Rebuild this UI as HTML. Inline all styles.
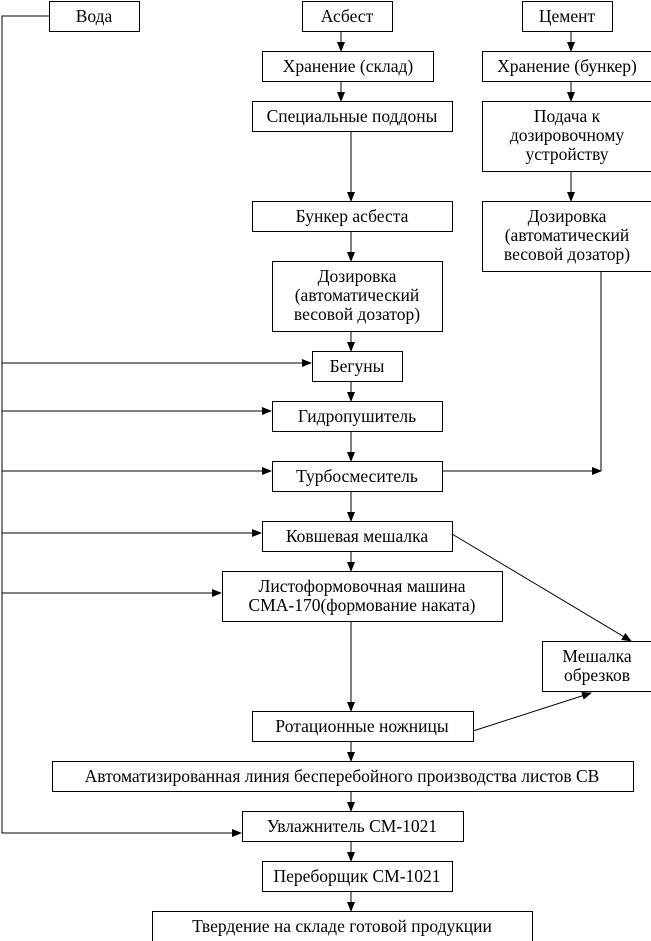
<!DOCTYPE html>
<html><head><meta charset="utf-8"><style>
body{margin:0;background:#fff}
svg{display:block}
text{font-family:"Liberation Serif",serif;font-size:17.5px;fill:#000;text-anchor:middle}
rect{fill:#fff;stroke:#000;stroke-width:1}
line,polyline{stroke:#000;stroke-width:1;fill:none}
</style></head><body>
<svg width="651" height="941" viewBox="0 0 651 941">
<defs><marker id="a" markerWidth="10" markerHeight="8" refX="9" refY="4" orient="auto" markerUnits="userSpaceOnUse"><path d="M0,0 L10,4 L0,8 z" fill="#000"/></marker></defs>
<polyline points="49,16 2,16 2,833 241,833" marker-end="url(#a)"/>
<line x1="2" y1="363" x2="311" y2="363" marker-end="url(#a)"/>
<line x1="2" y1="411" x2="271" y2="411" marker-end="url(#a)"/>
<line x1="2" y1="471" x2="271" y2="471" marker-end="url(#a)"/>
<line x1="2" y1="533" x2="261" y2="533" marker-end="url(#a)"/>
<line x1="2" y1="593" x2="221" y2="593" marker-end="url(#a)"/>
<line x1="341" y1="31" x2="341" y2="51" marker-end="url(#a)"/>
<line x1="341" y1="81" x2="341" y2="101" marker-end="url(#a)"/>
<line x1="351" y1="131" x2="351" y2="201" marker-end="url(#a)"/>
<line x1="351" y1="231" x2="351" y2="261" marker-end="url(#a)"/>
<line x1="351" y1="331" x2="351" y2="351" marker-end="url(#a)"/>
<line x1="351" y1="381" x2="351" y2="401" marker-end="url(#a)"/>
<line x1="351" y1="431" x2="351" y2="461" marker-end="url(#a)"/>
<line x1="351" y1="491" x2="351" y2="521" marker-end="url(#a)"/>
<line x1="351" y1="551" x2="351" y2="571" marker-end="url(#a)"/>
<line x1="351" y1="621" x2="351" y2="711" marker-end="url(#a)"/>
<line x1="351" y1="741" x2="351" y2="761" marker-end="url(#a)"/>
<line x1="351" y1="791" x2="351" y2="811" marker-end="url(#a)"/>
<line x1="351" y1="841" x2="351" y2="861" marker-end="url(#a)"/>
<line x1="351" y1="891" x2="351" y2="911" marker-end="url(#a)"/>
<line x1="571" y1="31" x2="571" y2="51" marker-end="url(#a)"/>
<line x1="571" y1="81" x2="571" y2="101" marker-end="url(#a)"/>
<line x1="571" y1="171" x2="571" y2="201" marker-end="url(#a)"/>
<line x1="601" y1="271" x2="601" y2="471"/>
<line x1="442" y1="471" x2="601" y2="471" marker-end="url(#a)"/>
<line x1="452" y1="534" x2="631" y2="641" marker-end="url(#a)"/>
<line x1="473" y1="731" x2="591" y2="693" marker-end="url(#a)"/>
<rect x="49.5" y="1.5" width="90" height="30"/><text x="94" y="22">Вода</text>
<rect x="302.5" y="1.5" width="90" height="30"/><text x="347" y="22">Асбест</text>
<rect x="522.5" y="1.5" width="90" height="30"/><text x="567" y="22">Цемент</text>
<rect x="262.5" y="51.5" width="171" height="30"/><text x="348" y="72">Хранение (склад)</text>
<rect x="482.5" y="51.5" width="170" height="30"/><text x="567" y="72">Хранение (бункер)</text>
<rect x="252.5" y="101.5" width="200" height="30"/><text x="352" y="122">Специальные поддоны</text>
<rect x="482.5" y="101.5" width="170" height="70"/><text x="567" y="122">Подача к</text><text x="567" y="141">дозировочному</text><text x="567" y="160">устройству</text>
<rect x="252.5" y="201.5" width="200" height="30"/><text x="352" y="222">Бункер асбеста</text>
<rect x="482.5" y="201.5" width="170" height="70"/><text x="567" y="222">Дозировка</text><text x="567" y="241">(автоматический</text><text x="567" y="260">весовой дозатор)</text>
<rect x="272.5" y="261.5" width="170" height="70"/><text x="357" y="282">Дозировка</text><text x="357" y="301">(автоматический</text><text x="357" y="320">весовой дозатор)</text>
<rect x="312.5" y="351.5" width="90" height="30"/><text x="357" y="372">Бегуны</text>
<rect x="272.5" y="401.5" width="170" height="30"/><text x="357" y="422">Гидропушитель</text>
<rect x="272.5" y="461.5" width="170" height="30"/><text x="357" y="482">Турбосмеситель</text>
<rect x="262.5" y="521.5" width="190" height="30"/><text x="357" y="542">Ковшевая мешалка</text>
<rect x="222.5" y="571.5" width="280" height="50"/><text x="362" y="592">Листоформовочная машина</text><text x="362" y="611">СМА-170(формование наката)</text>
<rect x="542.5" y="641.5" width="110" height="50"/><text x="597" y="662">Мешалка</text><text x="597" y="681">обрезков</text>
<rect x="252.5" y="711.5" width="221" height="30"/><text x="362" y="732">Ротационные ножницы</text>
<rect x="52.5" y="761.5" width="581" height="30"/><text x="342" y="782">Автоматизированная линия бесперебойного производства листов СВ</text>
<rect x="242.5" y="811.5" width="221" height="30"/><text x="352" y="832">Увлажнитель СМ-1021</text>
<rect x="262.5" y="861.5" width="190" height="30"/><text x="357" y="882">Переборщик СМ-1021</text>
<rect x="152.5" y="911.5" width="380" height="40"/><text x="342" y="932">Твердение на складе готовой продукции</text>
</svg>
</body></html>
